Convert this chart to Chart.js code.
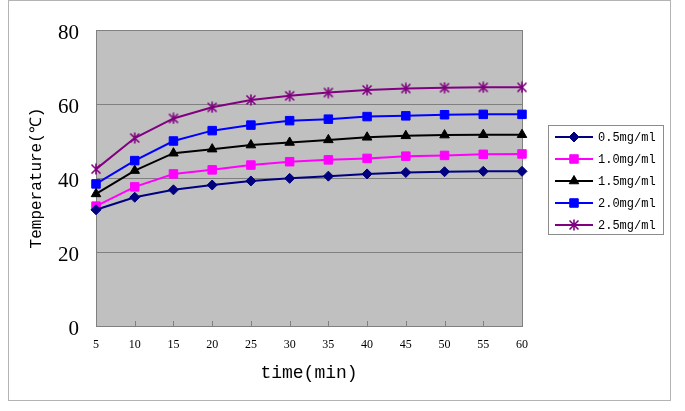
<!DOCTYPE html>
<html>
<head>
<meta charset="utf-8">
<script src="https://cdn.jsdelivr.net/npm/chart.js@4"></script>
<style>
  body { margin: 0; background: #fff; }
  #wrap { width: 685px; height: 411px; }
</style>
</head>
<body>
<div id="wrap"><canvas id="chart" width="685" height="411"></canvas></div>
<script>
// time points (min)
const times = ['5', '10', '15', '20', '25', '30', '35', '40', '45', '50', '55', '60'];

// temperature readings for each concentration
const temp05 = [31.4, 34.8, 36.8, 38.1, 39.2, 39.9, 40.5, 41.1, 41.5, 41.7, 41.8, 41.8];
const temp10 = [32.4, 37.6, 41.1, 42.2, 43.5, 44.4, 44.9, 45.3, 45.9, 46.1, 46.4, 46.5];
const temp15 = [35.7, 42.0, 46.7, 47.8, 48.9, 49.6, 50.3, 51.0, 51.4, 51.6, 51.7, 51.7];
const temp20 = [38.4, 44.7, 50.0, 52.8, 54.3, 55.5, 55.9, 56.6, 56.8, 57.1, 57.2, 57.2];
const temp25 = [42.4, 50.8, 56.1, 59.1, 61.1, 62.2, 63.1, 63.8, 64.2, 64.4, 64.5, 64.5];

const seriesNames = ['0.5mg/ml', '1.0mg/ml', '1.5mg/ml', '2.0mg/ml', '2.5mg/ml'];
const yTicks = [0, 20, 40, 60, 80];

// asterisk marker (X with a vertical bar) like the spreadsheet one
function makeAsterisk(color) {
    const c = document.createElement('canvas');
    c.width = 12;
    c.height = 12;
    const g = c.getContext('2d');
    g.strokeStyle = color;
    g.lineWidth = 1.6;
    g.beginPath();
    g.moveTo(1.5, 1.5); g.lineTo(10.5, 10.5);
    g.moveTo(10.5, 1.5); g.lineTo(1.5, 10.5);
    g.moveTo(6, 0.5); g.lineTo(6, 11.5);
    g.stroke();
    return c;
}

function series(label, data, color, style, radius) {
    return {
        label: label,
        data: data,
        borderColor: color,
        backgroundColor: color,
        borderWidth: 2,
        pointStyle: style,
        pointRadius: radius,
        pointHoverRadius: radius,
        pointBorderWidth: 1,
        pointBackgroundColor: color,
        pointBorderColor: color,
        cubicInterpolationMode: 'default',
        tension: 0,
        clip: false
    };
}

// plot background, frame, inner tick marks, outer border and the legend
const excelLook = {
    id: 'excelLook',
    beforeDraw(chart) {
        const ctx = chart.ctx;
        const a = chart.chartArea;
        ctx.save();
        ctx.fillStyle = '#ffffff';
        ctx.fillRect(0, 0, chart.width, chart.height);
        ctx.strokeStyle = '#b4b4b4';
        ctx.lineWidth = 1;
        ctx.strokeRect(8.5, 0.5, 662, 400);
        ctx.fillStyle = '#c0c0c0';
        ctx.fillRect(a.left, a.top, a.right - a.left, a.bottom - a.top);
        ctx.restore();
    },
    beforeDatasetsDraw(chart) {
        const ctx = chart.ctx;
        const a = chart.chartArea;
        const xs = chart.scales.x;
        ctx.save();
        ctx.strokeStyle = '#808080';
        ctx.lineWidth = 1;
        ctx.beginPath();
        for (let i = 0; i < times.length; i++) {
            const px = Math.round(xs.getPixelForValue(i)) + 0.5;
            ctx.moveTo(px, a.bottom);
            ctx.lineTo(px, a.bottom - 5);
        }
        ctx.stroke();
        ctx.strokeRect(Math.round(a.left) + 0.5, Math.round(a.top) + 0.5,
            Math.round(a.right - a.left), Math.round(a.bottom - a.top));
        ctx.restore();
    },
    afterDraw(chart) {
        const ctx = chart.ctx;
        ctx.save();
        ctx.strokeStyle = '#8c8c8c';
        ctx.lineWidth = 1;
        ctx.strokeRect(548.5, 125.5, 115, 109);
        ctx.font = '12px "Liberation Mono", monospace';
        ctx.textBaseline = 'middle';
        chart.data.datasets.forEach((ds, i) => {
            const y = 137 + i * 22;
            ctx.strokeStyle = ds.borderColor;
            ctx.lineWidth = 2;
            ctx.beginPath();
            ctx.moveTo(555, y);
            ctx.lineTo(593, y);
            ctx.stroke();
            ctx.fillStyle = ds.pointBackgroundColor;
            ctx.strokeStyle = ds.pointBorderColor;
            ctx.lineWidth = 1;
            Chart.helpers.drawPoint(ctx, {
                pointStyle: ds.pointStyle,
                radius: ds.pointRadius,
                borderWidth: 1,
                rotation: 0
            }, 574, y);
            ctx.fillStyle = '#000000';
            ctx.fillText(ds.label, 598, y + 1);
        });
        ctx.restore();
    }
};

new Chart(document.getElementById('chart'), {
    type: 'line',
    data: {
        labels: times,
        datasets: [
            series(seriesNames[0], temp05, '#000080', 'rectRot', 5),
            series(seriesNames[1], temp10, '#ff00ff', 'rect', 6),
            series(seriesNames[2], temp15, '#000000', 'triangle', 5.5),
            series(seriesNames[3], temp20, '#0000ff', 'rect', 6),
            series(seriesNames[4], temp25, '#800080', makeAsterisk('#800080'), 6)
        ]
    },
    options: {
        responsive: false,
        animation: false,
        layout: {
            padding: { left: 0, top: 30, right: 163, bottom: 0 }
        },
        plugins: {
            legend: { display: false },
            tooltip: { enabled: false }
        },
        scales: {
            x: {
                offset: false,
                afterFit(scale) { scale.height = 85; },
                grid: { display: false, drawTicks: false },
                border: { display: false },
                ticks: {
                    padding: 12,
                    maxRotation: 0,
                    autoSkip: false,
                    color: '#000000',
                    font: { family: '"Liberation Serif", serif', size: 12 }
                },
                title: {
                    display: true,
                    text: 'time(min)',
                    color: '#000000',
                    font: { family: '"Liberation Mono", monospace', size: 18 },
                    padding: { top: 0, bottom: 27 }
                }
            },
            y: {
                min: 0,
                max: 80,
                afterFit(scale) { scale.width = 96; },
                afterBuildTicks(scale) { scale.ticks = yTicks.map(v => ({ value: v })); },
                grid: { color: '#808080', lineWidth: 1, drawTicks: false },
                border: { display: false },
                ticks: {
                    padding: 17,
                    labelOffset: 3,
                    color: '#000000',
                    font: { family: '"Liberation Serif", serif', size: 21 }
                },
                title: {
                    display: true,
                    text: 'Temperature(℃)',
                    color: '#000000',
                    font: { family: '"Liberation Mono", monospace', size: 16 },
                    padding: { top: 27, bottom: 0 }
                }
            }
        }
    },
    plugins: [excelLook]
});
</script>
</body>
</html>
